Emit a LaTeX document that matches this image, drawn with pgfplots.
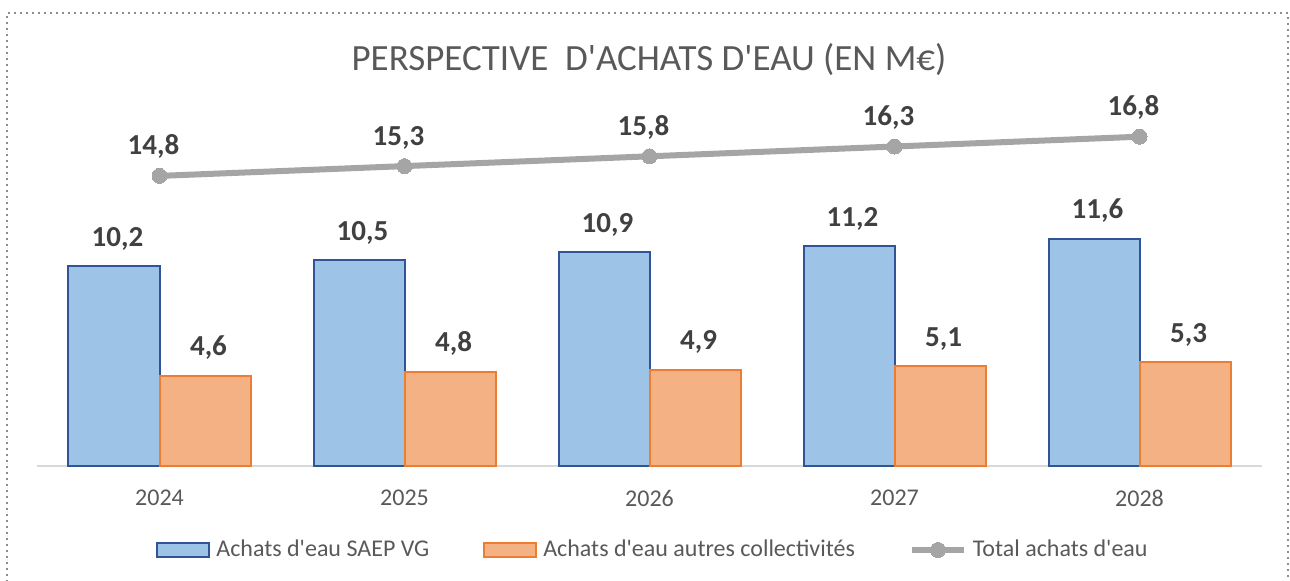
\documentclass[border=0pt]{standalone}
\usepackage{fontspec}
\setmainfont{Carlito}
\usepackage{pgfplots}
\pgfplotsset{compat=1.18}
\definecolor{blueF}{RGB}{157,195,230}
\definecolor{blueE}{RGB}{47,85,151}
\definecolor{orF}{RGB}{244,177,131}
\definecolor{orE}{RGB}{237,125,49}
\definecolor{lineG}{RGB}{165,165,165}
\definecolor{txtG}{RGB}{89,89,89}
\definecolor{lblG}{RGB}{64,64,64}
\definecolor{baseG}{RGB}{217,217,217}
\newcommand\q{\textquotesingle}
\pgfplotsset{
  barleg/.style={legend image code/.code={\draw[##1] (0pt,-3.5pt) rectangle (26pt,3.5pt);}},
  lineleg/.style={legend image code/.code={\draw[##1, mark repeat=2, mark phase=2] plot coordinates {(0pt,0pt) (13pt,0pt) (26pt,0pt)};}},
}
\begin{document}
\begin{tikzpicture}[x=1pt,y=1pt]
\path[use as bounding box] (-18.5,-57.5) rectangle (626.5,233);
\draw[black!45, dotted, line width=1pt] (-15,-70) rectangle (625.5,226.5);
\node[font=\fontsize{18.5}{21}\selectfont, text=txtG] at (306,203) {PERSPECTIVE\ \ D\q ACHATS D\q EAU (EN M€)};
\begin{axis}[
  at={(0,0)}, anchor=south west,
  scale only axis, width=612.5pt, height=186.2pt,
  xmin=-0.5, xmax=4.5, ymin=0, ymax=19,
  clip=false,
  axis y line=none,
  axis x line*=bottom,
  x axis line style={baseG, line width=1pt, -},
  xtick={0,1,2,3,4},
  xticklabels={2024,2025,2026,2027,2028},
  major tick length=0pt,
  xticklabel style={font=\fontsize{12}{14}\selectfont, text=txtG, yshift=-8.5pt},
  /pgf/number format/.cd, use comma, fixed, fixed zerofill, precision=1, assume math mode=true,
  /pgfplots/.cd,
  nodes near coords,
  every node near coord/.append style={font=\bfseries\fontsize{14.5}{16}\selectfont, text=lblG, anchor=base},
  legend columns=3,
  legend style={draw=none, fill=none, at={(0.5037,-0.2256)}, anchor=center,
    font=\fontsize{12}{14}\selectfont, text=txtG,
    /tikz/every even column/.append style={column sep=25pt},
    /tikz/every odd column/.append style={column sep=1pt},
    inner sep=0pt},
]
\addplot[ybar, bar width=45.5pt, bar shift=-22.75pt, fill=blueF, draw=blueE, line width=1pt,
  every node near coord/.append style={yshift=10pt, xshift=-21pt}, barleg]
  coordinates {(0,10.2) (1,10.5) (2,10.9) (3,11.2) (4,11.6)};
\addlegendentry{Achats d\q eau SAEP VG}
\addplot[ybar, bar width=45.5pt, bar shift=22.75pt, fill=orF, draw=orE, line width=1pt,
  every node near coord/.append style={yshift=10pt, xshift=24.5pt}, barleg]
  coordinates {(0,4.6) (1,4.8) (2,4.9) (3,5.1) (4,5.3)};
\addlegendentry{Achats d\q eau autres collectivités}
\addplot[sharp plot, lineG, line width=3pt, mark=*, mark size=3.75pt, mark options={fill=lineG, draw=lineG, line width=0pt},
  every node near coord/.append style={yshift=10.5pt, xshift=-3pt}, lineleg]
  coordinates {(0,14.8) (1,15.3) (2,15.8) (3,16.3) (4,16.8)};
\addlegendentry{Total achats d\q eau}
\end{axis}
\end{tikzpicture}
\end{document}
